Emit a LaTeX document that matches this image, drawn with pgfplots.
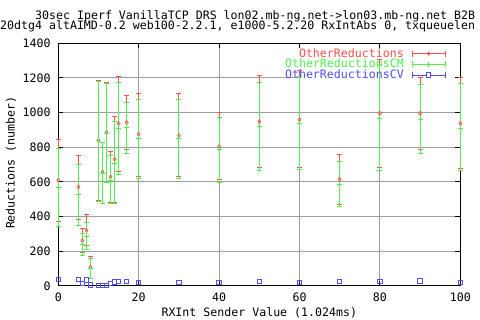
\documentclass[border=0pt]{standalone}
\usepackage{pgfplots}
\pgfplotsset{compat=1.18}
\usepackage{pgfplotstable}
\usepackage{fontspec}
\setmonofont{DejaVu Sans Mono}
\newcommand{\gf}{\ttfamily\fontsize{11.6}{12}\selectfont}
\definecolor{gpred}{RGB}{255,80,80}
\definecolor{gpgreen}{RGB}{80,240,80}
\definecolor{gpblue}{RGB}{80,80,240}

\pgfplotstableread{
x y lo hi
0 609 371 846
5 571 385 754
6 263 192 331
7 321 233 413
8 108 46 169
10 840 492 1184
11 657 477 830
12 886 596 1175
13 630 481 778
14 731 483 977
15 938 659 1207
17 944 788 1098
20 875 632 1111
30 867 631 1111
40 804 613 1000
50 948 682 1213
60 959 682 1242
70 615 471 757
80 996 682 1305
90 996 788 1201
100 938 679 1201
}\redtab

\pgfplotstableread{
x y lo hi
0 569 344 794
5 529 350 702
6 240 177 304
7 284 211 365
8 101 46 157
10 837 486 1178
11 650 477 830
12 880 596 1169
13 611 473 750
14 707 475 950
15 909 644 1175
17 915 765 1059
20 852 621 1077
30 848 621 1078
40 790 598 973
50 919 669 1175
60 938 673 1207
70 586 457 719
80 967 669 1280
90 961 765 1163
100 909 669 1169
}\greentab

\pgfplotstableread{
x y
0 37
5 38
6 15
7 35
8 6
10 4
11 4
12 4
13 15
14 22
15 27
17 27
20 21
30 21
40 21
50 27
60 21
70 27
80 27
90 29
100 21
}\bluetab

\begin{document}
\begin{tikzpicture}
\useasboundingbox (0pt,0pt) rectangle (480pt,320pt);
\clip (0pt,0pt) rectangle (480pt,320pt);
\node[anchor=base west, inner sep=0pt, font=\gf] at (35pt,300.7pt) {30sec Iperf VanillaTCP DRS lon02.mb-ng.net->lon03.mb-ng.net B2B};
\node[anchor=base west, inner sep=0pt, font=\gf] at (0pt,290.7pt) {20dtg4 altAIMD-0.2 web100-2.2.1, e1000-5.2.20 RxIntAbs 0, txqueuelen};
\begin{axis}[
  at={(58.3pt,34pt)}, anchor=south west,
  width=402pt, height=242.7pt, scale only axis,
  xmin=0, xmax=100, ymin=0, ymax=1400,
  xtick={0,20,...,100}, ytick={0,200,...,1400},
  grid=major, grid style={color=black!38, line width=1pt},
  axis line style={line width=1pt, black},
  tick align=inside, major tick length=5pt,
  tick style={black, line width=1pt},
  ticklabel style={font=\gf},
  /pgf/number format/assume math mode=true,
  /pgf/number format/1000 sep={},
  xticklabel style={anchor=center, yshift=-11.3pt},
  yticklabel style={anchor=east, inner sep=0pt, xshift=-7.6pt},
  xlabel={RXInt Sender Value (1.024ms)},
  ylabel={Reductions (number)},
  every axis x label/.style={at={(axis description cs:0.5,0)}, anchor=center, yshift=-27pt, font=\gf},
  every axis y label/.style={at={(axis description cs:0,0.5)}, xshift=-47.3pt, yshift=2pt, rotate=90, anchor=center, font=\gf},
  clip=false,
  legend plot pos=right,
  legend style={at={(rel axis cs:0.9644,0.9724)}, anchor=north east, draw=none, fill=none,
    font=\gf, inner sep=0pt, row sep=3.7pt, column sep=8pt,
    nodes={inner sep=0pt, text height=7pt, text depth=0pt}, cells={anchor=east}},
]
\fill[white] (axis cs:58.9,1186) rectangle (axis cs:98.6,1372);

\addplot[only marks, mark=diamond, mark size=2pt, gpred, mark options={line width=0.7pt},
  legend image code/.code={
    \draw[gpred, line width=1pt] (0pt,0pt) -- (33pt,0pt);
    \draw[gpred, line width=1pt] (0pt,-3pt) -- (0pt,3pt) (33pt,-3pt) -- (33pt,3pt);
    \draw[gpred, line width=0.7pt] (15pt,0pt) -- (16.5pt,1.5pt) -- (18pt,0pt) -- (16.5pt,-1.5pt) -- cycle;
  },
  error bars/.cd, y dir=both, y explicit,
  error bar style={line width=1pt, gpred},
  error mark options={rotate=90, gpred, line width=1pt, mark size=2.5pt}]
  table[x=x, y=y, y error plus expr=\thisrow{hi}-\thisrow{y}, y error minus expr=\thisrow{y}-\thisrow{lo}] {\redtab};
\addlegendentry{\textcolor{gpred}{OtherReductions}}

\addplot[only marks, mark=+, mark size=2.5pt, gpgreen, mark options={line width=1pt},
  legend image code/.code={
    \draw[gpgreen, line width=1pt] (0pt,0pt) -- (33pt,0pt);
    \draw[gpgreen, line width=1pt] (0pt,-3pt) -- (0pt,3pt) (33pt,-3pt) -- (33pt,3pt);
    \draw[gpgreen, line width=1pt] (16.5pt,-2.5pt) -- (16.5pt,2.5pt);
  },
  error bars/.cd, y dir=both, y explicit,
  error bar style={line width=1pt, gpgreen},
  error mark options={rotate=90, gpgreen, line width=1pt, mark size=2.5pt}]
  table[x=x, y=y, y error plus expr=\thisrow{hi}-\thisrow{y}, y error minus expr=\thisrow{y}-\thisrow{lo}] {\greentab};
\addlegendentry{\textcolor{gpgreen}{OtherReductionsCM}}

\addplot[only marks, mark=square, mark size=2.2pt, gpblue, mark options={line width=1pt},
  legend image code/.code={
    \draw[gpblue, line width=1pt] (0pt,0pt) -- (33pt,0pt);
    \draw[gpblue, line width=1pt] (0pt,-3pt) -- (0pt,3pt) (33pt,-3pt) -- (33pt,3pt);
    \draw[gpblue, line width=1pt, fill=white] (14.3pt,-2.2pt) rectangle (18.7pt,2.2pt);
  }]
  table[x=x, y=y] {\bluetab};
\addlegendentry{\textcolor{gpblue}{OtherReductionsCV}}
\end{axis}
\end{tikzpicture}
\end{document}
